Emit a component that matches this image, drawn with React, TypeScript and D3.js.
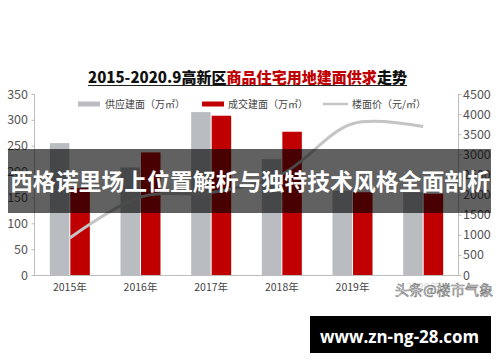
import React from "react";
import * as d3 from "d3";

const categories = ["2015年", "2016年", "2017年", "2018年", "2019年", "2020年"];
const supply = [255, 208, 315, 224, 163, 160];
const deal = [168, 237, 308, 277, 160, 157];
const price = [920, 1940, 2050, 2510, 3760, 3690];
const leftTicks = [0, 50, 100, 150, 200, 250, 300, 350];
const rightTicks = [0, 500, 1000, 1500, 2000, 2500, 3000, 3500, 4000, 4500];
const seriesNames = ["供应建面（万㎡）", "成交建面（万㎡）", "楼面价（元/㎡）"];

const FONT = '"Noto Sans CJK SC", "Noto Sans", sans-serif';
const GRAY = "#b9bcc1";
const RED = "#c00000";
const LINE = "#c4c4c4";
const AXIS = "#bdbdbd";

export default function App() {
  const x0 = d3.scaleBand<string>().domain(categories).range([34.5, 458.5]).padding(0);
  const bw = x0.bandwidth();
  const x1 = d3
    .scaleBand<string>()
    .domain(["s", "d"])
    .range([bw / 2 - 20, bw / 2 + 20])
    .paddingInner(0.05);
  const yL = d3.scaleLinear().domain([0, 350]).range([275, 94]);
  const yR = d3.scaleLinear().domain([0, 4500]).range([275, 94]);
  const cx = (c: string) => (x0(c) as number) + bw / 2;
  const line = d3
    .line<number>()
    .x((_, i) => cx(categories[i]))
    .y((d) => yR(d))
    .curve(d3.curveCatmullRom.alpha(0.5));

  return (
    <svg
      width={500}
      height={362}
      style={{ position: "fixed", left: 0, top: 0, background: "#fff" }}
      fontFamily={FONT}
    >
      <rect x={0} y={0} width={500} height={362} fill="#fff" />
      {/* title */}
      <text x={88} y={83} fontSize={15} fontWeight={900} fill="#111" textLength={319} lengthAdjust="spacingAndGlyphs">
        <tspan>2015-2020.9高新区</tspan>
        <tspan fill={RED}>商品住宅用地建面供求</tspan>
        <tspan>走势</tspan>
      </text>
      <line x1={88} x2={407} y1={85.5} y2={85.5} stroke="#222" strokeWidth={1.2} />

      {/* legend */}
      <rect x={78} y={101.5} width={22} height={5} fill={GRAY} />
      <text x={105} y={107.5} fontSize={10} fill="#444">{seriesNames[0]}</text>
      <rect x={202} y={101.5} width={22} height={5} fill={RED} />
      <text x={228} y={107.5} fontSize={10} fill="#444">{seriesNames[1]}</text>
      <line x1={323} x2={348} y1={104} y2={104} stroke={LINE} strokeWidth={2.5} />
      <text x={352} y={107.5} fontSize={10} fill="#444">{seriesNames[2]}</text>

      {/* bars */}
      {categories.map((c, i) => (
        <g key={c} transform={`translate(${x0(c)},0)`}>
          <rect x={x1("s")} y={yL(supply[i])} width={x1.bandwidth()} height={yL(0) - yL(supply[i])} fill={GRAY} />
          <rect x={x1("d")} y={yL(deal[i])} width={x1.bandwidth()} height={yL(0) - yL(deal[i])} fill={RED} />
        </g>
      ))}

      {/* line */}
      <path d={line(price) || ""} fill="none" stroke={LINE} strokeWidth={3} />

      {/* axes */}
      <line x1={34.5} x2={34.5} y1={94} y2={275.5} stroke={AXIS} />
      {leftTicks.map((t) => (
        <g key={t}>
          <line x1={31.5} x2={34.5} y1={yL(t) + 0.5} y2={yL(t) + 0.5} stroke={AXIS} />
          <text x={28} y={yL(t) + 4.5} fontSize={12.5} fill="#555" textAnchor="end">{t}</text>
        </g>
      ))}
      <line x1={458.5} x2={458.5} y1={94} y2={275.5} stroke={AXIS} />
      {rightTicks.map((t) => (
        <g key={t}>
          <line x1={458.5} x2={461.5} y1={yR(t) + 0.5} y2={yR(t) + 0.5} stroke={AXIS} />
          <text x={463} y={yR(t) + 4.5} fontSize={12.5} fill="#555">{t}</text>
        </g>
      ))}
      <line x1={34.5} x2={458.5} y1={275.5} y2={275.5} stroke={AXIS} />
      {categories.map((c) => (
        <text key={c} x={cx(c)} y={291} fontSize={10.5} fill="#444" textAnchor="middle">{c}</text>
      ))}

      {/* watermark */}
      <rect x={393} y={281} width={102} height={18} fill="#fff" opacity={0.8} />
      <text x={395} y={295} fontSize={14} fill="#f4f4f4" stroke="#777" strokeWidth={0.6} textLength={98} lengthAdjust="spacingAndGlyphs">头条@楼市气象</text>

      {/* banner overlay */}
      <rect x={8} y={149} width={483} height={64} fill="rgba(0,0,0,0.62)" />
      <text x={10} y={190} fontSize={23} fontWeight={700} fill="#fff" textLength={480} lengthAdjust="spacingAndGlyphs">西格诺里场上位置解析与独特技术风格全面剖析</text>

      {/* bottom box */}
      <rect x={310} y={316} width={181} height={37} fill="#000" />
      <text x={320} y={343} fontSize={18} fontWeight={700} fill="#fff" fontFamily='"Open Sans", "Noto Sans", sans-serif' textLength={159} lengthAdjust="spacingAndGlyphs">www.zn-ng-28.com</text>
    </svg>
  );
}
